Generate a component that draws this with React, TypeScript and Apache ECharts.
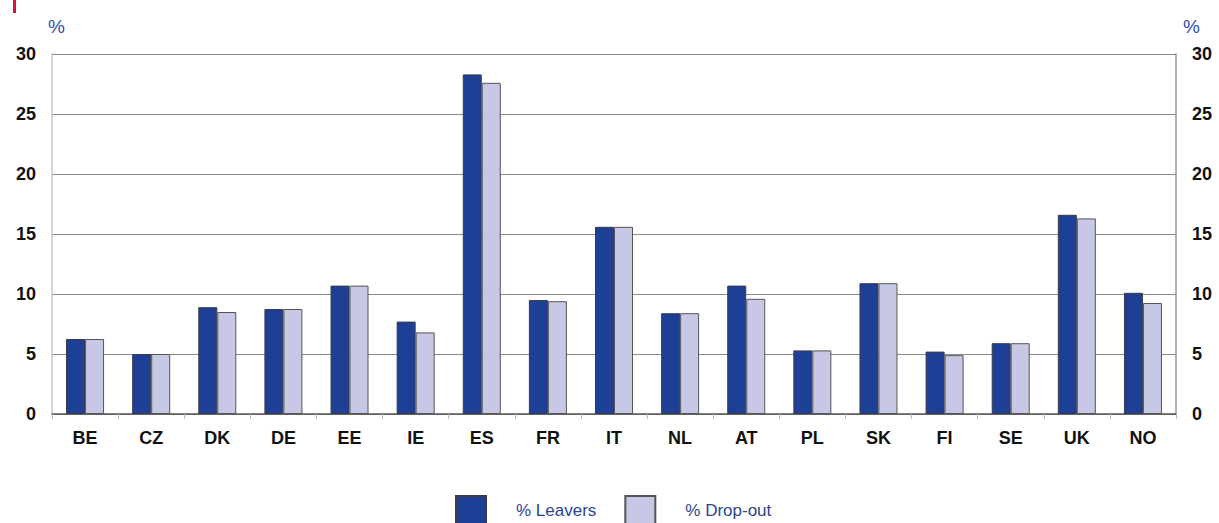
import React, { useEffect, useRef } from "react";
import * as echarts from "echarts";

const categories = ["BE", "CZ", "DK", "DE", "EE", "IE", "ES", "FR", "IT", "NL", "AT", "PL", "SK", "FI", "SE", "UK", "NO"];
const leavers = [6.25, 5.0, 8.9, 8.75, 10.7, 7.7, 28.3, 9.5, 15.6, 8.4, 10.7, 5.3, 10.9, 5.2, 5.9, 16.6, 10.1];
const dropout = [6.25, 5.0, 8.5, 8.75, 10.7, 6.8, 27.6, 9.4, 15.6, 8.4, 9.6, 5.3, 10.9, 4.9, 5.9, 16.3, 9.25];
const yTicks = [0, 5, 10, 15, 20, 25, 30];

export default function App() {
  const ref = useRef<HTMLDivElement>(null);
  useEffect(() => {
    const chart = echarts.init(ref.current!, null, { renderer: "svg" });
    const labelFont = { fontFamily: "Liberation Sans, Arial, sans-serif", fontWeight: "bold" as const, fontSize: 18, color: "#111" };
    chart.setOption({
      animation: false,
      backgroundColor: "#fff",
      grid: { left: 52, right: 43, top: 54, bottom: 109, containLabel: false },
      legend: {
        top: 495,
        left: 455,
        padding: 0,
        itemWidth: 30,
        itemHeight: 28,
        itemGap: 28,
        icon: "rect",
        textStyle: { fontFamily: "Liberation Sans, Arial, sans-serif", fontSize: 17, color: "#2a4590", padding: [0, 0, 0, 25] },
        data: ["% Leavers", "% Drop-out"],
      },
      xAxis: {
        type: "category",
        data: categories,
        axisLine: { lineStyle: { color: "#555", width: 1.5 } },
        axisTick: { show: true, length: 5, lineStyle: { color: "#bbb" } },
        axisLabel: { ...labelFont, margin: 15 },
      },
      yAxis: [
        {
          type: "value",
          min: 0,
          max: 30,
          interval: 5,
          position: "left",
          axisLine: { show: true, lineStyle: { color: "#c8c8c8", width: 1.5 } },
          axisTick: { show: false },
          splitLine: { lineStyle: { color: "#8a8a8a", width: 1.2 } },
          axisLabel: { ...labelFont, margin: 16, formatter: (v: number) => (yTicks.includes(v) ? String(v) : "") },
        },
        {
          type: "value",
          min: 0,
          max: 30,
          interval: 5,
          position: "right",
          axisLine: { show: true, lineStyle: { color: "#999", width: 1.5 } },
          axisTick: { show: false },
          splitLine: { show: false },
          axisLabel: { ...labelFont, margin: 16 },
        },
      ],
      series: [
        {
          name: "% Leavers",
          type: "bar",
          data: leavers,
          barWidth: 19,
          barGap: "0%",
          itemStyle: { color: "#1e3f96", borderColor: "#3a3a4a", borderWidth: 1 },
        },
        {
          name: "% Drop-out",
          type: "bar",
          data: dropout,
          barWidth: 19,
          barGap: "0%",
          itemStyle: { color: "#c6c8e6", borderColor: "#555", borderWidth: 1 },
        },
      ],
      graphic: [
        { type: "rect", shape: { x: 13, y: 0, width: 3, height: 13 }, style: { fill: "#d4143c" } },
        { type: "text", x: 48, y: 17, style: { text: "%", fontSize: 19, fill: "#2d4fa8", fontFamily: "Liberation Sans, Arial, sans-serif" } },
        { type: "text", x: 1183, y: 17, style: { text: "%", fontSize: 19, fill: "#2d4fa8", fontFamily: "Liberation Sans, Arial, sans-serif" } },
      ],
    });
    return () => chart.dispose();
  }, []);
  return <div ref={ref} style={{ position: "absolute", left: 0, top: 0, width: 1219, height: 523 }} />;
}
